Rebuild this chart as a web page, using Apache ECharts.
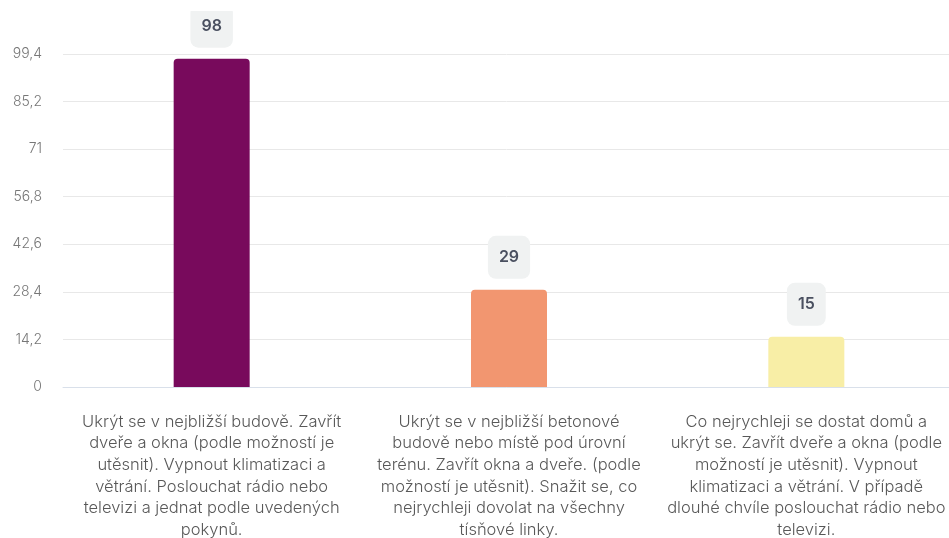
<!DOCTYPE html>
<html>
<head>
<meta charset="utf-8">
<script src="https://cdn.jsdelivr.net/npm/echarts@6/dist/echarts.min.js"></script>
<style>
html,body{margin:0;padding:0;background:#fff;}
#c{width:949px;height:538px;}
</style>
</head>
<body>
<div id="c"></div>
<script>
const categories = [
  "Ukrýt se v nejbližší budově. Zavřít\ndveře a okna (podle možností je\nutěsnit). Vypnout klimatizaci a\nvětrání. Poslouchat rádio nebo\ntelevizi a jednat podle uvedených\npokynů.",
  "Ukrýt se v nejbližší betonové\nbudově nebo místě pod úrovní\nterénu. Zavřít okna a dveře. (podle\nmožností je utěsnit). Snažit se, co\nnejrychleji dovolat na všechny\ntísňové linky.",
  "Co nejrychleji se dostat domů a\nukrýt se. Zavřít dveře a okna (podle\nmožností je utěsnit). Vypnout\nklimatizaci a větrání. V případě\ndlouhé chvíle poslouchat rádio nebo\ntelevizi."
];
const values = [98, 29, 15];
const barColors = ["#780a5c", "#f29670", "#f8eea6"];
const yMin = 0, yMax = 99.4, yInterval = 14.2;

const chart = echarts.init(document.getElementById('c'));
chart.setOption({
  animation: false,
  textStyle: {fontFamily: 'Inter'},
  grid: {left: 63, right: -6, top: 54, bottom: 151, containLabel: false, outerBoundsMode: 'none'},
  xAxis: {
    type: 'category',
    data: categories,
    axisTick: {show: false},
    axisLine: {lineStyle: {color: '#d9e0ea', width: 1}},
    axisLabel: {
      interval: 0,
      color: '#585858',
      fontSize: 16.5,
      lineHeight: 21.6,
      margin: 24,
      fontFamily: 'Inter',
      fontWeight: 300,
      align: 'center'
    }
  },
  yAxis: {
    type: 'value',
    min: yMin, max: yMax, interval: yInterval,
    axisLine: {show: false},
    axisTick: {show: false},
    splitLine: {lineStyle: {color: '#e8e8e8', width: 1}},
    axisLabel: {
      color: '#777',
      fontSize: 14,
      margin: 21,
      fontFamily: 'Inter',
      fontWeight: 300,
      formatter: v => String(Math.round(v * 10) / 10).replace('.', ',')
    }
  },
  graphic: [{
    type: 'rect', left: 0, top: 0, z: 100,
    shape: {width: 949, height: 11},
    style: {fill: '#fff'}
  }],
  series: [{
    type: 'bar',
    barWidth: 76,
    data: values.map((v, i) => ({value: v, itemStyle: {color: barColors[i]}})),
    itemStyle: {borderRadius: [4, 4, 0, 0]},
    label: {
      show: true,
      position: 'top',
      distance: 11,
      color: '#4a5060',
      fontWeight: 600,
      fontSize: 16,
      lineHeight: 19,
      fontFamily: 'Inter',
      backgroundColor: '#f0f2f2',
      borderRadius: 8,
      padding: [12, 11, 12, 11]
    }
  }]
});
</script>
</body>
</html>
